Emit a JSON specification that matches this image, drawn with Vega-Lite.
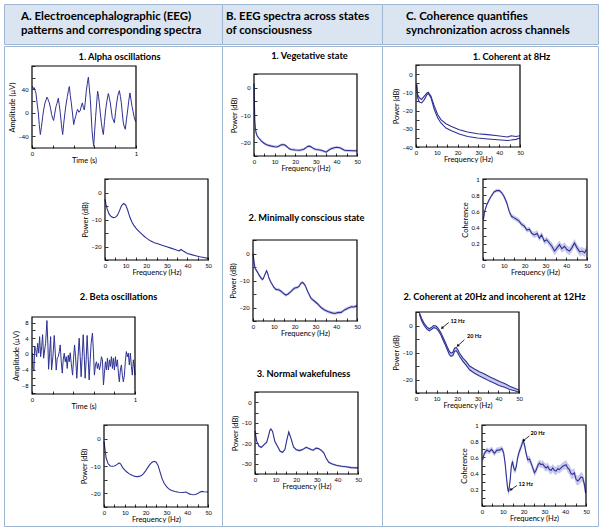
{
"$schema": "https://vega.github.io/schema/vega-lite/v6.json",
"padding": {"left": 3, "top": 3, "right": 3, "bottom": 6},
"background": "white",
"config": {
  "view": {"stroke": null},
  "font": "Lato",
  "axis": {"grid": false, "domain": false, "labelFont": "Lato", "titleFont": "Lato", "labelFontSize": 5.8, "titleFontSize": 7.5, "titleFontWeight": "normal", "labelColor": "black", "titleColor": "black", "tickColor": "black", "tickSize": -3, "tickWidth": 0.8, "labelOverlap": false, "labelFlush": false, "titlePadding": 1},
  "axisX": {"labelPadding": 5},
  "axisY": {"labelPadding": 7}
},
"datasets": {
  "a1": [{"t":0,"v":44},{"t":0.006,"v":45},{"t":0.014,"v":40},{"t":0.022,"v":43},{"t":0.03,"v":38},{"t":0.038,"v":34},{"t":0.05,"v":15},{"t":0.061,"v":0},{"t":0.07,"v":-20},{"t":0.08,"v":-37},{"t":0.09,"v":-25},{"t":0.103,"v":-6},{"t":0.112,"v":5},{"t":0.125,"v":17},{"t":0.135,"v":22},{"t":0.144,"v":27},{"t":0.152,"v":24},{"t":0.16,"v":20},{"t":0.167,"v":17},{"t":0.178,"v":8},{"t":0.189,"v":-3},{"t":0.2,"v":-10},{"t":0.208,"v":-13},{"t":0.218,"v":-2},{"t":0.231,"v":11},{"t":0.24,"v":16},{"t":0.253,"v":25},{"t":0.262,"v":14},{"t":0.272,"v":0},{"t":0.283,"v":-20},{"t":0.295,"v":-37},{"t":0.305,"v":-18},{"t":0.317,"v":0},{"t":0.328,"v":15},{"t":0.34,"v":28},{"t":0.35,"v":38},{"t":0.359,"v":45},{"t":0.368,"v":30},{"t":0.378,"v":17},{"t":0.39,"v":-2},{"t":0.401,"v":-20},{"t":0.41,"v":-12},{"t":0.42,"v":-6},{"t":0.43,"v":2},{"t":0.439,"v":6},{"t":0.45,"v":1},{"t":0.462,"v":3},{"t":0.472,"v":10},{"t":0.484,"v":17},{"t":0.494,"v":9},{"t":0.503,"v":5},{"t":0.512,"v":18},{"t":0.522,"v":37},{"t":0.532,"v":50},{"t":0.542,"v":61},{"t":0.55,"v":45},{"t":0.561,"v":23},{"t":0.568,"v":0},{"t":0.577,"v":-29},{"t":0.585,"v":-45},{"t":0.593,"v":-57},{"t":0.602,"v":-32},{"t":0.612,"v":-6},{"t":0.621,"v":15},{"t":0.631,"v":37},{"t":0.64,"v":28},{"t":0.647,"v":17},{"t":0.657,"v":0},{"t":0.667,"v":-17},{"t":0.676,"v":-28},{"t":0.686,"v":-37},{"t":0.697,"v":-15},{"t":0.708,"v":5},{"t":0.72,"v":20},{"t":0.734,"v":33},{"t":0.744,"v":25},{"t":0.753,"v":17},{"t":0.762,"v":5},{"t":0.772,"v":-8},{"t":0.782,"v":-12},{"t":0.792,"v":-17},{"t":0.803,"v":0},{"t":0.814,"v":17},{"t":0.826,"v":30},{"t":0.84,"v":38},{"t":0.85,"v":28},{"t":0.859,"v":17},{"t":0.868,"v":0},{"t":0.878,"v":-17},{"t":0.888,"v":-24},{"t":0.897,"v":-28},{"t":0.908,"v":-12},{"t":0.92,"v":5},{"t":0.93,"v":20},{"t":0.942,"v":34},{"t":0.952,"v":22},{"t":0.962,"v":11},{"t":0.972,"v":2},{"t":0.981,"v":-6},{"t":0.99,"v":-12},{"t":0.998,"v":-15}],
  "a2": [{"t":0.006,"v":0.2},{"t":0.01,"v":-3.7},{"t":0.019,"v":-4.1},{"t":0.026,"v":1.9},{"t":0.035,"v":1.4},{"t":0.045,"v":-0.7},{"t":0.055,"v":2.7},{"t":0.065,"v":0.2},{"t":0.074,"v":4.4},{"t":0.084,"v":-0.7},{"t":0.094,"v":1.9},{"t":0.103,"v":4.9},{"t":0.113,"v":-1.1},{"t":0.123,"v":1.0},{"t":0.132,"v":2.7},{"t":0.145,"v":8.5},{"t":0.155,"v":1.9},{"t":0.161,"v":-3.9},{"t":0.171,"v":0.2},{"t":0.181,"v":4.4},{"t":0.19,"v":-4.1},{"t":0.203,"v":-0.7},{"t":0.216,"v":4.7},{"t":0.226,"v":0.2},{"t":0.235,"v":-4.1},{"t":0.245,"v":-1.1},{"t":0.255,"v":-0.7},{"t":0.265,"v":0.6},{"t":0.274,"v":2.3},{"t":0.284,"v":-2.0},{"t":0.294,"v":-4.9},{"t":0.303,"v":-1.5},{"t":0.313,"v":0.2},{"t":0.323,"v":-2.0},{"t":0.332,"v":-0.7},{"t":0.342,"v":-3.7},{"t":0.352,"v":-0.3},{"t":0.361,"v":-2.0},{"t":0.371,"v":0.3},{"t":0.381,"v":-2.4},{"t":0.394,"v":-5.4},{"t":0.403,"v":-1.5},{"t":0.413,"v":2.3},{"t":0.423,"v":-0.7},{"t":0.435,"v":-6.2},{"t":0.445,"v":-1.5},{"t":0.458,"v":4.0},{"t":0.468,"v":-0.7},{"t":0.477,"v":-5.8},{"t":0.487,"v":-0.7},{"t":0.497,"v":4.9},{"t":0.506,"v":0.2},{"t":0.516,"v":-6.2},{"t":0.526,"v":-1.5},{"t":0.535,"v":4.7},{"t":0.545,"v":-0.7},{"t":0.555,"v":-6.6},{"t":0.565,"v":-1.5},{"t":0.574,"v":2.7},{"t":0.587,"v":5.3},{"t":0.597,"v":0.2},{"t":0.606,"v":-5.4},{"t":0.616,"v":-2.8},{"t":0.626,"v":-2.0},{"t":0.635,"v":-3.7},{"t":0.645,"v":-2.4},{"t":0.655,"v":-4.1},{"t":0.665,"v":-2.8},{"t":0.674,"v":-0.7},{"t":0.684,"v":-1.5},{"t":0.694,"v":-7.9},{"t":0.703,"v":-4.9},{"t":0.713,"v":-2.0},{"t":0.723,"v":-4.1},{"t":0.732,"v":-1.1},{"t":0.742,"v":-4.1},{"t":0.752,"v":-1.5},{"t":0.761,"v":-3.2},{"t":0.771,"v":-0.7},{"t":0.781,"v":-3.7},{"t":0.79,"v":-1.1},{"t":0.8,"v":-4.1},{"t":0.81,"v":-0.7},{"t":0.819,"v":-3.2},{"t":0.829,"v":-1.5},{"t":0.839,"v":-4.9},{"t":0.848,"v":-7.1},{"t":0.858,"v":-4.1},{"t":0.868,"v":-2.8},{"t":0.877,"v":-5.4},{"t":0.887,"v":-7.1},{"t":0.897,"v":-5.4},{"t":0.906,"v":-2.0},{"t":0.916,"v":0.6},{"t":0.926,"v":-0.7},{"t":0.935,"v":0.2},{"t":0.945,"v":-2.8},{"t":0.955,"v":0.2},{"t":0.965,"v":-3.2},{"t":0.974,"v":-5.4},{"t":0.984,"v":-1.5},{"t":0.994,"v":-3.7},{"t":1.0,"v":-5.4}],
  "sa1": [{"f":0,"p":-2.5},{"f":0.5,"p":-4.5},{"f":1,"p":-6},{"f":2,"p":-8},{"f":3,"p":-8.9},{"f":4,"p":-9.3},{"f":5,"p":-9.2},{"f":6,"p":-8.5},{"f":7,"p":-6.8},{"f":8,"p":-4.9},{"f":9,"p":-4.1},{"f":10,"p":-4.6},{"f":11,"p":-6.5},{"f":12,"p":-9},{"f":13,"p":-10.8},{"f":14,"p":-12.2},{"f":15,"p":-13.2},{"f":16,"p":-14},{"f":17,"p":-14.8},{"f":18,"p":-15.5},{"f":19,"p":-16.2},{"f":20,"p":-16.8},{"f":22,"p":-17.9},{"f":24,"p":-18.6},{"f":26,"p":-19.1},{"f":28,"p":-19.6},{"f":30,"p":-20.1},{"f":32,"p":-20.6},{"f":34,"p":-21.1},{"f":35,"p":-21.4},{"f":36,"p":-21.6},{"f":37,"p":-21.1},{"f":38,"p":-21.7},{"f":40,"p":-22.6},{"f":42,"p":-23},{"f":44,"p":-23.4},{"f":46,"p":-23.8},{"f":48,"p":-24.1},{"f":50,"p":-24.4}],
  "sa2": [{"f":0,"p":-1},{"f":0.5,"p":-4},{"f":1,"p":-7},{"f":2,"p":-9.2},{"f":3,"p":-10},{"f":4,"p":-10.1},{"f":5,"p":-10},{"f":6,"p":-9.6},{"f":7,"p":-9},{"f":7.5,"p":-8.9},{"f":8,"p":-9.3},{"f":9,"p":-10.6},{"f":10,"p":-11.5},{"f":11,"p":-12.2},{"f":12,"p":-12.8},{"f":13,"p":-13.2},{"f":14,"p":-13.6},{"f":15,"p":-13.8},{"f":16,"p":-13.9},{"f":17,"p":-13.8},{"f":18,"p":-13.5},{"f":19,"p":-12.8},{"f":20,"p":-11.8},{"f":21,"p":-10.6},{"f":22,"p":-9.5},{"f":23,"p":-8.7},{"f":24,"p":-8.3},{"f":25,"p":-8.5},{"f":26,"p":-9.8},{"f":27,"p":-12.3},{"f":28,"p":-14.8},{"f":29,"p":-16.4},{"f":30,"p":-17.5},{"f":31,"p":-18.3},{"f":32,"p":-18.8},{"f":34,"p":-19.3},{"f":36,"p":-19.6},{"f":38,"p":-19.7},{"f":39.5,"p":-19.5},{"f":41,"p":-20.2},{"f":42,"p":-20.4},{"f":43,"p":-20.5},{"f":44,"p":-20.4},{"f":45,"p":-20.1},{"f":46,"p":-19.6},{"f":47,"p":-19.3},{"f":48,"p":-19.4},{"f":50,"p":-19.5}],
  "b1": [{"f":0,"p":1.5,"lo":1.0,"hi":2.0},{"f":0.2,"p":-6,"lo":-6.5,"hi":-5.5},{"f":0.4,"p":-12,"lo":-12.5,"hi":-11.5},{"f":0.7,"p":-15,"lo":-15.5,"hi":-14.5},{"f":1,"p":-16.5,"lo":-17,"hi":-16},{"f":1.5,"p":-17.6,"lo":-18.1,"hi":-17.1},{"f":2.4,"p":-18.5,"lo":-19,"hi":-18},{"f":3.5,"p":-19.5,"lo":-20,"hi":-19},{"f":5,"p":-20.4,"lo":-20.9,"hi":-19.9},{"f":6.5,"p":-21,"lo":-21.5,"hi":-20.5},{"f":8,"p":-21.3,"lo":-21.8,"hi":-20.8},{"f":10,"p":-21.6,"lo":-22.1,"hi":-21.1},{"f":11,"p":-21.7,"lo":-22.2,"hi":-21.2},{"f":12,"p":-21.4,"lo":-21.9,"hi":-20.9},{"f":13,"p":-21,"lo":-21.5,"hi":-20.5},{"f":14,"p":-20.8,"lo":-21.3,"hi":-20.3},{"f":15,"p":-21,"lo":-21.5,"hi":-20.5},{"f":16,"p":-21.6,"lo":-22.1,"hi":-21.1},{"f":17,"p":-22.3,"lo":-22.8,"hi":-21.8},{"f":18,"p":-22.6,"lo":-23.1,"hi":-22.1},{"f":20,"p":-22.8,"lo":-23.3,"hi":-22.3},{"f":22,"p":-22.9,"lo":-23.4,"hi":-22.4},{"f":24,"p":-22.6,"lo":-23.1,"hi":-22.1},{"f":25,"p":-22.1,"lo":-22.6,"hi":-21.6},{"f":26,"p":-21.5,"lo":-22,"hi":-21},{"f":27,"p":-21.4,"lo":-21.9,"hi":-20.9},{"f":28,"p":-21.8,"lo":-22.3,"hi":-21.3},{"f":29,"p":-22.3,"lo":-22.8,"hi":-21.8},{"f":30,"p":-22.6,"lo":-23.1,"hi":-22.1},{"f":32,"p":-22.8,"lo":-23.3,"hi":-22.3},{"f":33,"p":-23,"lo":-23.5,"hi":-22.5},{"f":34,"p":-23.3,"lo":-23.8,"hi":-22.8},{"f":35,"p":-23.6,"lo":-24.1,"hi":-23.1},{"f":36,"p":-23,"lo":-23.5,"hi":-22.5},{"f":37,"p":-22.5,"lo":-23,"hi":-22},{"f":38,"p":-22.2,"lo":-22.7,"hi":-21.7},{"f":39,"p":-22,"lo":-22.5,"hi":-21.5},{"f":40,"p":-21.8,"lo":-22.3,"hi":-21.3},{"f":41,"p":-21.9,"lo":-22.4,"hi":-21.4},{"f":42,"p":-22.1,"lo":-22.6,"hi":-21.6},{"f":43,"p":-22.5,"lo":-23,"hi":-22},{"f":44,"p":-22.9,"lo":-23.4,"hi":-22.4},{"f":45,"p":-23,"lo":-23.5,"hi":-22.5},{"f":46,"p":-23,"lo":-23.5,"hi":-22.5},{"f":48,"p":-23.1,"lo":-23.6,"hi":-22.6},{"f":50,"p":-23.1,"lo":-23.6,"hi":-22.6}],
  "b2": [{"f":0,"p":0,"lo":-0.6,"hi":0.6},{"f":0.5,"p":-3,"lo":-3.6,"hi":-2.4},{"f":1,"p":-5.5,"lo":-6.1,"hi":-4.9},{"f":2,"p":-6.7,"lo":-7.3,"hi":-6.1},{"f":3,"p":-8.1,"lo":-8.7,"hi":-7.5},{"f":4,"p":-9.2,"lo":-9.8,"hi":-8.6},{"f":4.5,"p":-9.6,"lo":-10.2,"hi":-9},{"f":5,"p":-9.2,"lo":-9.8,"hi":-8.6},{"f":5.6,"p":-8,"lo":-8.6,"hi":-7.4},{"f":6.5,"p":-6.4,"lo":-7,"hi":-5.8},{"f":7,"p":-7.2,"lo":-7.8,"hi":-6.6},{"f":7.7,"p":-9.2,"lo":-9.8,"hi":-8.6},{"f":8.5,"p":-10.5,"lo":-11.1,"hi":-9.9},{"f":9.4,"p":-11.7,"lo":-12.3,"hi":-11.1},{"f":10,"p":-12.5,"lo":-13.1,"hi":-11.9},{"f":11,"p":-13.3,"lo":-13.9,"hi":-12.7},{"f":12,"p":-13.4,"lo":-14,"hi":-12.8},{"f":12.6,"p":-13.5,"lo":-14.1,"hi":-12.9},{"f":13.5,"p":-14,"lo":-14.6,"hi":-13.4},{"f":14.2,"p":-14.5,"lo":-15.1,"hi":-13.9},{"f":15,"p":-15,"lo":-15.6,"hi":-14.4},{"f":15.8,"p":-15.4,"lo":-16,"hi":-14.8},{"f":16.9,"p":-15,"lo":-15.6,"hi":-14.4},{"f":18.2,"p":-14.1,"lo":-14.7,"hi":-13.5},{"f":19.8,"p":-12.9,"lo":-13.5,"hi":-12.3},{"f":21.5,"p":-12.5,"lo":-13.1,"hi":-11.9},{"f":22.3,"p":-12,"lo":-12.6,"hi":-11.4},{"f":23,"p":-11,"lo":-11.6,"hi":-10.4},{"f":23.9,"p":-10.7,"lo":-11.3,"hi":-10.1},{"f":25,"p":-11.7,"lo":-12.3,"hi":-11.1},{"f":26.3,"p":-14.1,"lo":-14.7,"hi":-13.5},{"f":27.9,"p":-16.6,"lo":-17.2,"hi":-16},{"f":29.5,"p":-17.6,"lo":-18.2,"hi":-17},{"f":31.1,"p":-18.7,"lo":-19.3,"hi":-18.1},{"f":32.7,"p":-20,"lo":-20.6,"hi":-19.4},{"f":34.4,"p":-20.9,"lo":-21.5,"hi":-20.3},{"f":36,"p":-21.5,"lo":-22.1,"hi":-20.9},{"f":37.6,"p":-21.9,"lo":-22.5,"hi":-21.3},{"f":39.2,"p":-22.2,"lo":-22.8,"hi":-21.6},{"f":40.8,"p":-21.9,"lo":-22.5,"hi":-21.3},{"f":42.4,"p":-21.8,"lo":-22.4,"hi":-21.2},{"f":44,"p":-20.9,"lo":-21.5,"hi":-20.3},{"f":45.6,"p":-20.3,"lo":-20.9,"hi":-19.7},{"f":47.3,"p":-19.7,"lo":-20.3,"hi":-19.1},{"f":48.5,"p":-19.8,"lo":-20.4,"hi":-19.2},{"f":50,"p":-19.4,"lo":-20,"hi":-18.8}],
  "b3": [{"f":0,"p":-14,"lo":-14.5,"hi":-13.5},{"f":0.8,"p":-19,"lo":-19.5,"hi":-18.5},{"f":2,"p":-21.5,"lo":-22,"hi":-21},{"f":3.1,"p":-22,"lo":-22.5,"hi":-21.5},{"f":4.4,"p":-20.7,"lo":-21.2,"hi":-20.2},{"f":5.7,"p":-19.5,"lo":-20,"hi":-19},{"f":6.5,"p":-16.6,"lo":-17.1,"hi":-16.1},{"f":7.2,"p":-13.8,"lo":-14.3,"hi":-13.3},{"f":7.7,"p":-13,"lo":-13.5,"hi":-12.5},{"f":8.5,"p":-14.1,"lo":-14.6,"hi":-13.6},{"f":9.6,"p":-19,"lo":-19.5,"hi":-18.5},{"f":10.9,"p":-21.5,"lo":-22,"hi":-21},{"f":12.2,"p":-23.9,"lo":-24.4,"hi":-23.4},{"f":13.4,"p":-24.4,"lo":-24.9,"hi":-23.9},{"f":14.5,"p":-23.1,"lo":-23.6,"hi":-22.6},{"f":15.5,"p":-18.2,"lo":-18.7,"hi":-17.7},{"f":16.4,"p":-14.5,"lo":-15,"hi":-14},{"f":17.4,"p":-17.4,"lo":-17.9,"hi":-16.9},{"f":18.7,"p":-21.8,"lo":-22.3,"hi":-21.3},{"f":19.9,"p":-23.1,"lo":-23.6,"hi":-22.6},{"f":21.5,"p":-23.6,"lo":-24.1,"hi":-23.1},{"f":23.1,"p":-23.1,"lo":-23.6,"hi":-22.6},{"f":24.8,"p":-22,"lo":-22.5,"hi":-21.5},{"f":25.9,"p":-22.4,"lo":-22.9,"hi":-21.9},{"f":27.2,"p":-23.1,"lo":-23.6,"hi":-22.6},{"f":28.3,"p":-23.4,"lo":-23.9,"hi":-22.9},{"f":29.6,"p":-22.4,"lo":-22.9,"hi":-21.9},{"f":30.8,"p":-22.6,"lo":-23.1,"hi":-22.1},{"f":32.1,"p":-23.4,"lo":-23.9,"hi":-22.9},{"f":33.4,"p":-24.7,"lo":-25.2,"hi":-24.2},{"f":34.5,"p":-27.2,"lo":-27.7,"hi":-26.7},{"f":35.8,"p":-29.3,"lo":-29.8,"hi":-28.8},{"f":37.5,"p":-30.1,"lo":-30.6,"hi":-29.6},{"f":39.4,"p":-30.7,"lo":-31.2,"hi":-30.2},{"f":41.9,"p":-31.2,"lo":-31.7,"hi":-30.7},{"f":44.3,"p":-31.5,"lo":-32,"hi":-31},{"f":46.7,"p":-31.9,"lo":-32.4,"hi":-31.4},{"f":50,"p":-32,"lo":-32.5,"hi":-31.5}],
  "c1p": [{"f":0.3,"p1":-5.7,"p2":-5.7},{"f":0.8,"p1":-11.2,"p2":-13},{"f":1.6,"p1":-13,"p2":-15.4},{"f":2.7,"p1":-13.9,"p2":-15.8},{"f":4,"p1":-12.1,"p2":-14},{"f":5.3,"p1":-10.3,"p2":-11.2},{"f":5.9,"p1":-9.9,"p2":-10.6},{"f":7.2,"p1":-12.1,"p2":-13},{"f":8.8,"p1":-17.6,"p2":-19.4},{"f":10.4,"p1":-22.2,"p2":-24},{"f":12,"p1":-25,"p2":-26.8},{"f":14.4,"p1":-27.2,"p2":-29.6},{"f":16.8,"p1":-28.6,"p2":-31},{"f":20.8,"p1":-30.5,"p2":-32.9},{"f":24.8,"p1":-31.8,"p2":-34.2},{"f":29.6,"p1":-32.7,"p2":-35.1},{"f":34.5,"p1":-33.2,"p2":-35.6},{"f":39.3,"p1":-33.8,"p2":-36},{"f":44,"p1":-34.5,"p2":-36.4},{"f":45.7,"p1":-33.8,"p2":-36.2},{"f":48.1,"p1":-34.2,"p2":-35.8},{"f":50,"p1":-33.8,"p2":-35.1}],
  "c1c": [{"f":0.2,"c":0.5,"lo":0.47,"hi":0.53},{"f":0.8,"c":0.6,"lo":0.58,"hi":0.62},{"f":1.8,"c":0.68,"lo":0.66,"hi":0.7},{"f":2.9,"c":0.74,"lo":0.72,"hi":0.76},{"f":4,"c":0.79,"lo":0.77,"hi":0.81},{"f":5.3,"c":0.84,"lo":0.82,"hi":0.86},{"f":6.6,"c":0.857,"lo":0.835,"hi":0.879},{"f":7.9,"c":0.857,"lo":0.835,"hi":0.879},{"f":9,"c":0.83,"lo":0.81,"hi":0.85},{"f":10.2,"c":0.78,"lo":0.75,"hi":0.81},{"f":11.5,"c":0.7,"lo":0.67,"hi":0.73},{"f":12.6,"c":0.6,"lo":0.57,"hi":0.63},{"f":13.7,"c":0.54,"lo":0.51,"hi":0.57},{"f":15,"c":0.52,"lo":0.49,"hi":0.55},{"f":16.3,"c":0.5,"lo":0.47,"hi":0.53},{"f":17.4,"c":0.48,"lo":0.45,"hi":0.51},{"f":18.5,"c":0.44,"lo":0.41,"hi":0.47},{"f":19.8,"c":0.42,"lo":0.39,"hi":0.45},{"f":21.1,"c":0.37,"lo":0.34,"hi":0.4},{"f":22.3,"c":0.38,"lo":0.35,"hi":0.41},{"f":23.4,"c":0.33,"lo":0.3,"hi":0.36},{"f":24.7,"c":0.31,"lo":0.27,"hi":0.35},{"f":26,"c":0.33,"lo":0.29,"hi":0.37},{"f":27.1,"c":0.27,"lo":0.23,"hi":0.31},{"f":28.2,"c":0.31,"lo":0.27,"hi":0.35},{"f":29.5,"c":0.23,"lo":0.19,"hi":0.27},{"f":30.6,"c":0.25,"lo":0.21,"hi":0.29},{"f":31.9,"c":0.21,"lo":0.17,"hi":0.25},{"f":33.1,"c":0.17,"lo":0.12,"hi":0.22},{"f":34.4,"c":0.11,"lo":0.06,"hi":0.16},{"f":35.6,"c":0.15,"lo":0.1,"hi":0.2},{"f":36.8,"c":0.19,"lo":0.14,"hi":0.24},{"f":37.9,"c":0.14,"lo":0.09,"hi":0.19},{"f":39.2,"c":0.17,"lo":0.12,"hi":0.22},{"f":40.3,"c":0.13,"lo":0.08,"hi":0.18},{"f":41.6,"c":0.11,"lo":0.06,"hi":0.16},{"f":42.7,"c":0.15,"lo":0.1,"hi":0.2},{"f":44,"c":0.21,"lo":0.16,"hi":0.26},{"f":45.2,"c":0.15,"lo":0.1,"hi":0.2},{"f":46.5,"c":0.1,"lo":0.05,"hi":0.15},{"f":47.7,"c":0.11,"lo":0.06,"hi":0.16},{"f":48.9,"c":0.09,"lo":0.04,"hi":0.14},{"f":49.7,"c":0.13,"lo":0.08,"hi":0.18}],
  "c2p": [{"f":1.6,"p1":4.8,"p2":4.2},{"f":2.8,"p1":2.5,"p2":1.7},{"f":4.1,"p1":0.6,"p2":-0.2},{"f":5.4,"p1":-0.6,"p2":-1.4},{"f":6.5,"p1":-1.2,"p2":-2.0},{"f":7.6,"p1":-0.6,"p2":-1.4},{"f":8.6,"p1":0.0,"p2":-0.8},{"f":9.7,"p1":-0.2,"p2":-1.0},{"f":10.6,"p1":-0.9,"p2":-1.7},{"f":11.9,"p1":-2.4,"p2":-3.2},{"f":13,"p1":-4.2,"p2":-5.2},{"f":14.1,"p1":-6.0,"p2":-7.0},{"f":15.1,"p1":-7.8,"p2":-8.8},{"f":16.2,"p1":-9.6,"p2":-10.8},{"f":17,"p1":-10.2,"p2":-11.4},{"f":17.9,"p1":-9.9,"p2":-11.1},{"f":18.7,"p1":-8.4,"p2":-9.6},{"f":19.5,"p1":-8.1,"p2":-9.3},{"f":20.3,"p1":-9.0,"p2":-10.2},{"f":21.1,"p1":-10.2,"p2":-11.4},{"f":22.7,"p1":-12.0,"p2":-13.2},{"f":24.4,"p1":-13.4,"p2":-14.8},{"f":26,"p1":-15.0,"p2":-16.4},{"f":28.4,"p1":-16.1,"p2":-17.7},{"f":30.8,"p1":-17.1,"p2":-18.7},{"f":33.3,"p1":-18.0,"p2":-19.6},{"f":35.7,"p1":-19.0,"p2":-20.6},{"f":38.1,"p1":-19.8,"p2":-21.4},{"f":40.6,"p1":-20.7,"p2":-22.3},{"f":43,"p1":-21.5,"p2":-22.9},{"f":45.5,"p1":-22.5,"p2":-23.7},{"f":47.9,"p1":-23.2,"p2":-24.2},{"f":50,"p1":-23.9,"p2":-24.7}],
  "c2c": [{"f":0.3,"c":0.57,"lo":0.535,"hi":0.605},{"f":1.1,"c":0.65,"lo":0.615,"hi":0.685},{"f":2.4,"c":0.69,"lo":0.655,"hi":0.725},{"f":3.5,"c":0.67,"lo":0.635,"hi":0.705},{"f":4.6,"c":0.7,"lo":0.665,"hi":0.735},{"f":5.9,"c":0.65,"lo":0.615,"hi":0.685},{"f":7.2,"c":0.69,"lo":0.655,"hi":0.725},{"f":8.3,"c":0.69,"lo":0.655,"hi":0.725},{"f":9.5,"c":0.71,"lo":0.675,"hi":0.745},{"f":10.4,"c":0.66,"lo":0.615,"hi":0.705},{"f":11.1,"c":0.53,"lo":0.485,"hi":0.575},{"f":11.7,"c":0.37,"lo":0.325,"hi":0.415},{"f":12.3,"c":0.22,"lo":0.175,"hi":0.265},{"f":12.8,"c":0.17,"lo":0.125,"hi":0.215},{"f":13.5,"c":0.31,"lo":0.265,"hi":0.355},{"f":14.1,"c":0.49,"lo":0.445,"hi":0.535},{"f":14.7,"c":0.55,"lo":0.505,"hi":0.595},{"f":15.2,"c":0.47,"lo":0.425,"hi":0.515},{"f":15.9,"c":0.44,"lo":0.395,"hi":0.485},{"f":16.5,"c":0.49,"lo":0.445,"hi":0.535},{"f":17.1,"c":0.59,"lo":0.545,"hi":0.635},{"f":17.9,"c":0.67,"lo":0.625,"hi":0.715},{"f":18.8,"c":0.73,"lo":0.685,"hi":0.775},{"f":19.4,"c":0.78,"lo":0.735,"hi":0.825},{"f":19.9,"c":0.8,"lo":0.755,"hi":0.845},{"f":20.4,"c":0.76,"lo":0.715,"hi":0.805},{"f":21.2,"c":0.65,"lo":0.605,"hi":0.695},{"f":22,"c":0.57,"lo":0.525,"hi":0.615},{"f":22.8,"c":0.58,"lo":0.535,"hi":0.625},{"f":23.6,"c":0.53,"lo":0.485,"hi":0.575},{"f":24.4,"c":0.47,"lo":0.425,"hi":0.515},{"f":25.2,"c":0.41,"lo":0.365,"hi":0.455},{"f":26,"c":0.44,"lo":0.395,"hi":0.485},{"f":26.8,"c":0.5,"lo":0.455,"hi":0.545},{"f":27.6,"c":0.53,"lo":0.485,"hi":0.575},{"f":28.4,"c":0.51,"lo":0.465,"hi":0.555},{"f":29.2,"c":0.52,"lo":0.475,"hi":0.565},{"f":30,"c":0.49,"lo":0.44,"hi":0.54},{"f":30.8,"c":0.47,"lo":0.42,"hi":0.52},{"f":31.6,"c":0.49,"lo":0.44,"hi":0.54},{"f":32.4,"c":0.45,"lo":0.4,"hi":0.5},{"f":33.2,"c":0.44,"lo":0.39,"hi":0.49},{"f":34,"c":0.47,"lo":0.42,"hi":0.52},{"f":34.8,"c":0.44,"lo":0.39,"hi":0.49},{"f":35.6,"c":0.43,"lo":0.38,"hi":0.48},{"f":36.4,"c":0.46,"lo":0.41,"hi":0.51},{"f":37.2,"c":0.45,"lo":0.4,"hi":0.5},{"f":38,"c":0.47,"lo":0.42,"hi":0.52},{"f":38.8,"c":0.49,"lo":0.44,"hi":0.54},{"f":39.6,"c":0.5,"lo":0.45,"hi":0.55},{"f":40.4,"c":0.51,"lo":0.45,"hi":0.57},{"f":41.2,"c":0.47,"lo":0.41,"hi":0.53},{"f":42,"c":0.45,"lo":0.39,"hi":0.51},{"f":42.8,"c":0.4,"lo":0.34,"hi":0.46},{"f":43.6,"c":0.39,"lo":0.33,"hi":0.45},{"f":44.4,"c":0.41,"lo":0.35,"hi":0.47},{"f":45.2,"c":0.33,"lo":0.27,"hi":0.39},{"f":46,"c":0.31,"lo":0.25,"hi":0.37},{"f":46.8,"c":0.33,"lo":0.27,"hi":0.39},{"f":47.6,"c":0.36,"lo":0.3,"hi":0.42},{"f":48.4,"c":0.35,"lo":0.29,"hi":0.41},{"f":49.2,"c":0.27,"lo":0.21,"hi":0.33},{"f":49.8,"c":0.16,"lo":0.1,"hi":0.22}],
  "c2pa": [{"label":"12 Hz","ax":16.7,"ay":1.5,"tx":15.9,"ty":1.1,"hx":12.8,"hy":-0.8},{"label":"20 Hz","ax":24.8,"ay":-4.0,"tx":23.5,"ty":-5.3,"hx":20.4,"hy":-7.4}],
  "c2ca": [{"label":"20 Hz","ax":23.3,"ay":0.9,"tx":22.8,"ty":0.865,"hx":20.0,"hy":0.81},{"label":"12 Hz","ax":17.6,"ay":0.273,"tx":16.8,"ty":0.253,"hx":14.0,"hy":0.204}]
},
"vconcat": [
{"hconcat": [
  {"width": 218, "height": 40, "data": {"values": []}, "mark": {"type": "point", "opacity": 0},
   "view": {"fill": "#dbe5f1", "stroke": "#9fb6d3", "strokeWidth": 1},
   "title": {"text": ["A. Electroencephalographic (EEG)", "patterns and corresponding spectra"], "anchor": "start", "frame": "group", "offset": -32, "dx": 17, "fontSize": 11.5, "fontWeight": "bold", "font": "Lato", "lineHeight": 13.5, "color": "#000000"}},
  {"width": 160, "height": 40, "data": {"values": []}, "mark": {"type": "point", "opacity": 0},
   "view": {"fill": "#dbe5f1", "stroke": "#9fb6d3", "strokeWidth": 1},
   "title": {"text": ["B. EEG spectra across states", "of consciousness"], "anchor": "start", "frame": "group", "offset": -32, "dx": 4, "fontSize": 11.5, "fontWeight": "bold", "font": "Lato", "lineHeight": 13.5, "color": "#000000"}},
  {"width": 216, "height": 40, "data": {"values": []}, "mark": {"type": "point", "opacity": 0},
   "view": {"fill": "#dbe5f1", "stroke": "#9fb6d3", "strokeWidth": 1},
   "title": {"text": ["C. Coherence quantifies", "synchronization across channels"], "anchor": "start", "frame": "group", "offset": -32, "dx": 24, "fontSize": 11.5, "fontWeight": "bold", "font": "Lato", "lineHeight": 13.5, "color": "#000000"}}
], "spacing": 0, "bounds": "flush"},
{"hconcat": [
  {"width": 218, "height": 480, "view": {"stroke": "#9fb6d3", "fill": "white"},
   "resolve": {"scale": {"x": "independent", "y": "independent"}, "axis": {"x": "independent", "y": "independent"}},
   "layer": [
    {"layer": [
      {"data": {"name": "a1"}, "mark": {"type": "line", "color": "#2e3192", "strokeWidth": 1},
       "encoding": {
        "x": {"field": "t", "type": "quantitative", "scale": {"domain": [0, 1], "range": [28, 132], "nice": false, "zero": false},
              "axis": {"orient": "bottom", "offset": -378, "values": [0, 0.2, 0.4, 0.6, 0.8, 1], "format": "~g", "labelExpr": "datum.value == 0 || datum.value == 1 ? datum.label : ''", "title": "Time (s)"}},
        "y": {"field": "v", "type": "quantitative", "scale": {"domain": [-60, 80], "range": [102, 20], "nice": false, "zero": false},
              "axis": {"orient": "left", "offset": -28, "values": [-60, -40, -20, 0, 20, 40, 60, 80], "labelExpr": "datum.value == 40 || datum.value == 0 || datum.value == -40 ? datum.label : ''", "title": "Amplitude (µV)"}}}},
      {"data": {"values": [{}]}, "mark": {"type": "rect", "filled": false, "color": "black", "strokeWidth": 1.2},
       "encoding": {
        "x": {"datum": 0, "type": "quantitative", "axis": {"orient": "top", "offset": -20, "labels": false, "ticks": false, "domain": false, "title": "1. Alpha oscillations", "titleX": 115, "titleY": -10, "titleBaseline": "middle", "titleAlign": "center", "titleFontSize": 9.3, "titleFontWeight": "bold", "titleLimit": 400}},
        "x2": {"datum": 1},
        "y": {"datum": -60, "type": "quantitative", "axis": null},
        "y2": {"datum": 80}}}
     ], "resolve": {"axis": {"x": "independent", "y": "independent"}}},
    {"layer": [
      {"data": {"name": "sa1"}, "mark": {"type": "line", "color": "#2e3192", "strokeWidth": 1.1},
       "encoding": {
        "x": {"field": "f", "type": "quantitative", "scale": {"domain": [0, 50], "range": [101, 204], "nice": false, "zero": false},
              "axis": {"orient": "bottom", "offset": -266, "values": [0, 5, 10, 15, 20, 25, 30, 35, 40, 45, 50], "labelExpr": "datum.value % 10 === 0 ? datum.label : ''", "title": "Frequency (Hz)"}},
        "y": {"field": "p", "type": "quantitative", "scale": {"domain": [-25, 5], "range": [214, 133], "nice": false, "zero": false},
              "axis": {"orient": "left", "offset": -101, "values": [-25, -20, -15, -10, -5, 0, 5], "labelExpr": "datum.value % 10 === 0 ? datum.label : ''", "title": "Power (dB)"}}}},
      {"data": {"values": [{}]}, "mark": {"type": "rect", "filled": false, "color": "black", "strokeWidth": 1.2},
       "encoding": {"x": {"datum": 0, "type": "quantitative", "axis": null}, "x2": {"datum": 50}, "y": {"datum": -25, "type": "quantitative", "axis": null}, "y2": {"datum": 5}}}
     ], "resolve": {"axis": {"x": "independent", "y": "independent"}}},
    {"layer": [
      {"data": {"name": "a2"}, "mark": {"type": "line", "color": "#2e3192", "strokeWidth": 1},
       "encoding": {
        "x": {"field": "t", "type": "quantitative", "scale": {"domain": [0, 1], "range": [28, 131], "nice": false, "zero": false},
              "axis": {"orient": "bottom", "offset": -132, "values": [0, 0.2, 0.4, 0.6, 0.8, 1], "format": "~g", "labelExpr": "datum.value == 0 || datum.value == 1 ? datum.label : ''", "title": "Time (s)"}},
        "y": {"field": "v", "type": "quantitative", "scale": {"domain": [-10.2, 9.4], "range": [348, 271], "nice": false, "zero": false},
              "axis": {"orient": "left", "offset": -28, "values": [-10, -8, -6, -4, -2, 0, 2, 4, 6, 8], "labelExpr": "datum.value % 4 === 0 ? datum.label : ''", "title": "Amplitude (µV)"}}}},
      {"data": {"values": [{}]}, "mark": {"type": "rect", "filled": false, "color": "black", "strokeWidth": 1.2},
       "encoding": {
        "x": {"datum": 0, "type": "quantitative", "axis": {"orient": "top", "offset": -271, "labels": false, "ticks": false, "domain": false, "title": "2. Beta oscillations", "titleX": 114, "titleY": -21, "titleBaseline": "middle", "titleAlign": "center", "titleFontSize": 9.3, "titleFontWeight": "bold", "titleLimit": 400}},
        "x2": {"datum": 1},
        "y": {"datum": -10.2, "type": "quantitative", "axis": null},
        "y2": {"datum": 9.4}}}
     ], "resolve": {"axis": {"x": "independent", "y": "independent"}}},
    {"layer": [
      {"data": {"name": "sa2"}, "mark": {"type": "line", "color": "#2e3192", "strokeWidth": 1.1},
       "encoding": {
        "x": {"field": "f", "type": "quantitative", "scale": {"domain": [0, 50], "range": [100, 204], "nice": false, "zero": false},
              "axis": {"orient": "bottom", "offset": -19, "values": [0, 5, 10, 15, 20, 25, 30, 35, 40, 45, 50], "labelExpr": "datum.value % 10 === 0 ? datum.label : ''", "title": "Frequency (Hz)"}},
        "y": {"field": "p", "type": "quantitative", "scale": {"domain": [-25, 5], "range": [461, 379], "nice": false, "zero": false},
              "axis": {"orient": "left", "offset": -100, "values": [-25, -20, -15, -10, -5, 0, 5], "labelExpr": "datum.value % 10 === 0 ? datum.label : ''", "title": "Power (dB)"}}}},
      {"data": {"values": [{}]}, "mark": {"type": "rect", "filled": false, "color": "black", "strokeWidth": 1.2},
       "encoding": {"x": {"datum": 0, "type": "quantitative", "axis": null}, "x2": {"datum": 50}, "y": {"datum": -25, "type": "quantitative", "axis": null}, "y2": {"datum": 5}}}
     ], "resolve": {"axis": {"x": "independent", "y": "independent"}}}
   ]},
  {"width": 160, "height": 480, "view": {"stroke": "#9fb6d3", "fill": "white"},
   "resolve": {"scale": {"x": "independent", "y": "independent"}, "axis": {"x": "independent", "y": "independent"}},
   "layer": [
    {"layer": [
      {"data": {"name": "b1"}, "mark": {"type": "area", "color": "#a5a5e0", "opacity": 0.6},
       "encoding": {"x": {"field": "f", "type": "quantitative", "axis": null}, "y": {"field": "lo", "type": "quantitative", "axis": null}, "y2": {"field": "hi"}}},
      {"data": {"name": "b1"}, "mark": {"type": "line", "color": "#2e3192", "strokeWidth": 1.1},
       "encoding": {
        "x": {"field": "f", "type": "quantitative", "scale": {"domain": [0, 50], "range": [32, 135], "nice": false, "zero": false},
              "axis": {"orient": "bottom", "offset": -370, "values": [0, 5, 10, 15, 20, 25, 30, 35, 40, 45, 50], "labelExpr": "datum.value % 10 === 0 ? datum.label : ''", "title": "Frequency (Hz)"}},
        "y": {"field": "p", "type": "quantitative", "scale": {"domain": [-25, 5], "range": [110, 28], "nice": false, "zero": false},
              "axis": {"orient": "left", "offset": -32, "values": [-25, -20, -15, -10, -5, 0, 5], "labelExpr": "datum.value % 10 === 0 ? datum.label : ''", "title": "Power (dB)"}}}},
      {"data": {"values": [{}]}, "mark": {"type": "rect", "filled": false, "color": "black", "strokeWidth": 1.2},
       "encoding": {
        "x": {"datum": 0, "type": "quantitative", "axis": {"orient": "top", "offset": -28, "labels": false, "ticks": false, "domain": false, "title": "1. Vegetative state", "titleX": 87, "titleY": -19, "titleBaseline": "middle", "titleAlign": "center", "titleFontSize": 9.3, "titleFontWeight": "bold", "titleLimit": 400}},
        "x2": {"datum": 50},
        "y": {"datum": -25, "type": "quantitative", "axis": null},
        "y2": {"datum": 5}}}
     ], "resolve": {"axis": {"x": "independent", "y": "independent"}}},
    {"layer": [
      {"data": {"name": "b2"}, "mark": {"type": "area", "color": "#a5a5e0", "opacity": 0.6},
       "encoding": {"x": {"field": "f", "type": "quantitative", "axis": null}, "y": {"field": "lo", "type": "quantitative", "axis": null}, "y2": {"field": "hi"}}},
      {"data": {"name": "b2"}, "mark": {"type": "line", "color": "#2e3192", "strokeWidth": 1.1},
       "encoding": {
        "x": {"field": "f", "type": "quantitative", "scale": {"domain": [0, 50], "range": [31, 135], "nice": false, "zero": false},
              "axis": {"orient": "bottom", "offset": -205, "values": [0, 5, 10, 15, 20, 25, 30, 35, 40, 45, 50], "labelExpr": "datum.value % 10 === 0 ? datum.label : ''", "title": "Frequency (Hz)"}},
        "y": {"field": "p", "type": "quantitative", "scale": {"domain": [-25, 5], "range": [275, 194], "nice": false, "zero": false},
              "axis": {"orient": "left", "offset": -31, "values": [-25, -20, -15, -10, -5, 0, 5], "labelExpr": "datum.value % 10 === 0 ? datum.label : ''", "title": "Power (dB)"}}}},
      {"data": {"values": [{}]}, "mark": {"type": "rect", "filled": false, "color": "black", "strokeWidth": 1.2},
       "encoding": {
        "x": {"datum": 0, "type": "quantitative", "axis": {"orient": "top", "offset": -194, "labels": false, "ticks": false, "domain": false, "title": "2. Minimally conscious state", "titleX": 84, "titleY": -23, "titleBaseline": "middle", "titleAlign": "center", "titleFontSize": 9.3, "titleFontWeight": "bold", "titleLimit": 400}},
        "x2": {"datum": 50},
        "y": {"datum": -25, "type": "quantitative", "axis": null},
        "y2": {"datum": 5}}}
     ], "resolve": {"axis": {"x": "independent", "y": "independent"}}},
    {"layer": [
      {"data": {"name": "b3"}, "mark": {"type": "area", "color": "#a5a5e0", "opacity": 0.6},
       "encoding": {"x": {"field": "f", "type": "quantitative", "axis": null}, "y": {"field": "lo", "type": "quantitative", "axis": null}, "y2": {"field": "hi"}}},
      {"data": {"name": "b3"}, "mark": {"type": "line", "color": "#2e3192", "strokeWidth": 1.1},
       "encoding": {
        "x": {"field": "f", "type": "quantitative", "scale": {"domain": [0, 50], "range": [33, 136], "nice": false, "zero": false},
              "axis": {"orient": "bottom", "offset": -52, "values": [0, 5, 10, 15, 20, 25, 30, 35, 40, 45, 50], "labelExpr": "datum.value % 10 === 0 ? datum.label : ''", "title": "Frequency (Hz)"}},
        "y": {"field": "p", "type": "quantitative", "scale": {"domain": [-35, 5], "range": [428, 346], "nice": false, "zero": false},
              "axis": {"orient": "left", "offset": -33, "values": [-35, -30, -25, -20, -15, -10, -5, 0, 5], "labelExpr": "datum.value % 10 === 0 ? datum.label : ''", "title": "Power (dB)"}}}},
      {"data": {"values": [{}]}, "mark": {"type": "rect", "filled": false, "color": "black", "strokeWidth": 1.2},
       "encoding": {
        "x": {"datum": 0, "type": "quantitative", "axis": {"orient": "top", "offset": -346, "labels": false, "ticks": false, "domain": false, "title": "3. Normal wakefulness", "titleX": 81, "titleY": -19, "titleBaseline": "middle", "titleAlign": "center", "titleFontSize": 9.3, "titleFontWeight": "bold", "titleLimit": 400}},
        "x2": {"datum": 50},
        "y": {"datum": -35, "type": "quantitative", "axis": null},
        "y2": {"datum": 5}}}
     ], "resolve": {"axis": {"x": "independent", "y": "independent"}}}
   ]},
  {"width": 216, "height": 480, "view": {"stroke": "#9fb6d3", "fill": "white"},
   "resolve": {"scale": {"x": "independent", "y": "independent"}, "axis": {"x": "independent", "y": "independent"}},
   "layer": [
    {"layer": [
      {"data": {"name": "c1p"}, "mark": {"type": "line", "color": "#2e3192", "strokeWidth": 1.1},
       "encoding": {
        "x": {"field": "f", "type": "quantitative", "scale": {"domain": [0, 50], "range": [34, 138], "nice": false, "zero": false},
              "axis": {"orient": "bottom", "offset": -379, "values": [0, 5, 10, 15, 20, 25, 30, 35, 40, 45, 50], "labelExpr": "datum.value % 10 === 0 ? datum.label : ''", "title": "Frequency (Hz)"}},
        "y": {"field": "p1", "type": "quantitative", "scale": {"domain": [-40, 5], "range": [101, 19], "nice": false, "zero": false},
              "axis": {"orient": "left", "offset": -34, "values": [-40, -35, -30, -25, -20, -15, -10, -5, 0, 5], "labelExpr": "datum.value % 10 === 0 ? datum.label : ''", "title": "Power (dB)"}}}},
      {"data": {"name": "c1p"}, "mark": {"type": "line", "color": "#2e3192", "strokeWidth": 1.1},
       "encoding": {"x": {"field": "f", "type": "quantitative", "axis": null}, "y": {"field": "p2", "type": "quantitative", "axis": null}}},
      {"data": {"values": [{}]}, "mark": {"type": "rect", "filled": false, "color": "black", "strokeWidth": 1.2},
       "encoding": {
        "x": {"datum": 0, "type": "quantitative", "axis": {"orient": "top", "offset": -19, "labels": false, "ticks": false, "domain": false, "title": "1. Coherent at 8Hz", "titleX": 129, "titleY": -9, "titleBaseline": "middle", "titleAlign": "center", "titleFontSize": 9.3, "titleFontWeight": "bold", "titleLimit": 400}},
        "x2": {"datum": 50},
        "y": {"datum": -40, "type": "quantitative", "axis": null},
        "y2": {"datum": 5}}}
     ], "resolve": {"axis": {"x": "independent", "y": "independent"}}},
    {"layer": [
      {"data": {"name": "c1c"}, "mark": {"type": "area", "color": "#a5a5e0", "opacity": 0.6},
       "encoding": {"x": {"field": "f", "type": "quantitative", "axis": null}, "y": {"field": "lo", "type": "quantitative", "axis": null}, "y2": {"field": "hi"}}},
      {"data": {"name": "c1c"}, "mark": {"type": "line", "color": "#2e3192", "strokeWidth": 1.1},
       "encoding": {
        "x": {"field": "f", "type": "quantitative", "scale": {"domain": [0, 50], "range": [101, 205], "nice": false, "zero": false},
              "axis": {"orient": "bottom", "offset": -266, "values": [0, 5, 10, 15, 20, 25, 30, 35, 40, 45, 50], "labelExpr": "datum.value % 10 === 0 ? datum.label : ''", "title": "Frequency (Hz)"}},
        "y": {"field": "c", "type": "quantitative", "scale": {"domain": [0, 1], "range": [214, 133], "nice": false, "zero": false},
              "axis": {"orient": "left", "offset": -101, "values": [0, 0.1, 0.2, 0.3, 0.4, 0.5, 0.6, 0.7, 0.8, 0.9, 1], "format": "~g", "labelExpr": "indexof([0.2, 0.4, 0.6, 0.8, 1], datum.value) >= 0 ? datum.label : ''", "title": "Coherence"}}}},
      {"data": {"values": [{}]}, "mark": {"type": "rect", "filled": false, "color": "black", "strokeWidth": 1.2},
       "encoding": {"x": {"datum": 0, "type": "quantitative", "axis": null}, "x2": {"datum": 50}, "y": {"datum": 0, "type": "quantitative", "axis": null}, "y2": {"datum": 1}}}
     ], "resolve": {"axis": {"x": "independent", "y": "independent"}}},
    {"layer": [
      {"data": {"name": "c2p"}, "mark": {"type": "area", "color": "#a5a5e0", "opacity": 0.6},
       "encoding": {"x": {"field": "f", "type": "quantitative", "axis": null}, "y": {"field": "p2", "type": "quantitative", "axis": null}, "y2": {"field": "p1"}}},
      {"data": {"name": "c2p"}, "mark": {"type": "line", "color": "#2e3192", "strokeWidth": 1.1},
       "encoding": {
        "x": {"field": "f", "type": "quantitative", "scale": {"domain": [0, 50], "range": [34, 137], "nice": false, "zero": false},
              "axis": {"orient": "bottom", "offset": -133, "values": [0, 5, 10, 15, 20, 25, 30, 35, 40, 45, 50], "labelExpr": "datum.value % 10 === 0 ? datum.label : ''", "title": "Frequency (Hz)"}},
        "y": {"field": "p1", "type": "quantitative", "scale": {"domain": [-25, 5], "range": [347, 266], "nice": false, "zero": false},
              "axis": {"orient": "left", "offset": -34, "values": [-25, -20, -15, -10, -5, 0, 5], "labelExpr": "datum.value % 10 === 0 ? datum.label : ''", "title": "Power (dB)"}}}},
      {"data": {"name": "c2p"}, "mark": {"type": "line", "color": "#2e3192", "strokeWidth": 1.1},
       "encoding": {"x": {"field": "f", "type": "quantitative", "axis": null}, "y": {"field": "p2", "type": "quantitative", "axis": null}}},
      {"data": {"name": "c2pa"}, "mark": {"type": "rule", "color": "black", "strokeWidth": 0.8},
       "encoding": {"x": {"field": "tx", "type": "quantitative", "axis": null}, "y": {"field": "ty", "type": "quantitative", "axis": null}, "x2": {"field": "hx"}, "y2": {"field": "hy"}}},
      {"data": {"name": "c2pa"}, "mark": {"type": "point", "shape": "triangle", "filled": true, "size": 10, "angle": 225, "color": "black", "opacity": 1},
       "encoding": {"x": {"field": "hx", "type": "quantitative", "axis": null}, "y": {"field": "hy", "type": "quantitative", "axis": null}}},
      {"data": {"name": "c2pa"}, "mark": {"type": "text", "align": "left", "baseline": "middle", "fontSize": 5.5, "fontWeight": "bold", "font": "Lato", "color": "black"},
       "encoding": {"x": {"field": "ax", "type": "quantitative", "axis": null}, "y": {"field": "ay", "type": "quantitative", "axis": null}, "text": {"field": "label"}}},
      {"data": {"values": [{}]}, "mark": {"type": "rect", "filled": false, "color": "black", "strokeWidth": 1.2},
       "encoding": {
        "x": {"datum": 0, "type": "quantitative", "axis": {"orient": "top", "offset": -266, "labels": false, "ticks": false, "domain": false, "title": "2. Coherent at 20Hz and incoherent at 12Hz", "titleX": 112, "titleY": -16, "titleBaseline": "middle", "titleAlign": "center", "titleFontSize": 9.3, "titleFontWeight": "bold", "titleLimit": 400}},
        "x2": {"datum": 50},
        "y": {"datum": -25, "type": "quantitative", "axis": null},
        "y2": {"datum": 5}}}
     ], "resolve": {"axis": {"x": "independent", "y": "independent"}}},
    {"layer": [
      {"data": {"name": "c2c"}, "mark": {"type": "area", "color": "#a5a5e0", "opacity": 0.6},
       "encoding": {"x": {"field": "f", "type": "quantitative", "axis": null}, "y": {"field": "lo", "type": "quantitative", "axis": null}, "y2": {"field": "hi"}}},
      {"data": {"name": "c2c"}, "mark": {"type": "line", "color": "#2e3192", "strokeWidth": 1.1},
       "encoding": {
        "x": {"field": "f", "type": "quantitative", "scale": {"domain": [0, 50], "range": [100, 204], "nice": false, "zero": false},
              "axis": {"orient": "bottom", "offset": -20, "values": [0, 5, 10, 15, 20, 25, 30, 35, 40, 45, 50], "labelExpr": "datum.value % 10 === 0 ? datum.label : ''", "title": "Frequency (Hz)"}},
        "y": {"field": "c", "type": "quantitative", "scale": {"domain": [0, 1], "range": [460, 379], "nice": false, "zero": false},
              "axis": {"orient": "left", "offset": -100, "values": [0, 0.1, 0.2, 0.3, 0.4, 0.5, 0.6, 0.7, 0.8, 0.9, 1], "format": "~g", "labelExpr": "indexof([0.2, 0.4, 0.6, 0.8, 1], datum.value) >= 0 ? datum.label : ''", "title": "Coherence"}}}},
      {"data": {"name": "c2ca"}, "mark": {"type": "rule", "color": "black", "strokeWidth": 0.8},
       "encoding": {"x": {"field": "tx", "type": "quantitative", "axis": null}, "y": {"field": "ty", "type": "quantitative", "axis": null}, "x2": {"field": "hx"}, "y2": {"field": "hy"}}},
      {"data": {"name": "c2ca"}, "mark": {"type": "point", "shape": "triangle", "filled": true, "size": 10, "angle": 225, "color": "black", "opacity": 1},
       "encoding": {"x": {"field": "hx", "type": "quantitative", "axis": null}, "y": {"field": "hy", "type": "quantitative", "axis": null}}},
      {"data": {"name": "c2ca"}, "mark": {"type": "text", "align": "left", "baseline": "middle", "fontSize": 5.5, "fontWeight": "bold", "font": "Lato", "color": "black"},
       "encoding": {"x": {"field": "ax", "type": "quantitative", "axis": null}, "y": {"field": "ay", "type": "quantitative", "axis": null}, "text": {"field": "label"}}},
      {"data": {"values": [{}]}, "mark": {"type": "rect", "filled": false, "color": "black", "strokeWidth": 1.2},
       "encoding": {"x": {"datum": 0, "type": "quantitative", "axis": null}, "x2": {"datum": 50}, "y": {"datum": 0, "type": "quantitative", "axis": null}, "y2": {"datum": 1}}}
     ], "resolve": {"axis": {"x": "independent", "y": "independent"}}}
   ]}
], "spacing": 0, "bounds": "flush"}
],
"spacing": 0
}
